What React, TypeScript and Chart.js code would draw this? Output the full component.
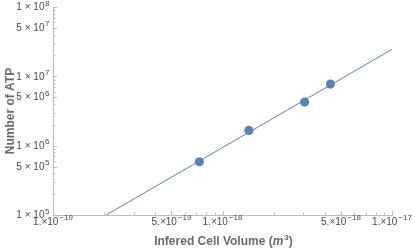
import React, { useEffect, useRef } from "react";
import { Chart, registerables } from "chart.js";

Chart.register(...registerables);

// Measured data points (inferred cell volume in m^3, number of ATP)
const volumes = [7.3e-19, 1.43e-18, 3.05e-18, 4.33e-18];
const atpCounts = [5.86e5, 1.66e6, 4.26e6, 7.74e6];

// Fitted power-law line, sampled at its two visible ends
const fitVolumes = [2.06e-19, 1e-17];
const fitAtp = [1e5, 2.45e7];

// Tick labels
const xTickValues = [1e-19, 5e-19, 1e-18, 5e-18, 1e-17];
const xTickMantissas = ["1.", "5.", "1.", "5.", "1."];
const xTickExponents = ["\u221219", "\u221219", "\u221218", "\u221218", "\u221217"];
const yTickValues = [1e5, 5e5, 1e6, 5e6, 1e7, 5e7, 1e8];
const yTickMantissas = ["1", "5", "1", "5", "1", "5", "1"];
const yTickExponents = ["5", "5", "6", "6", "7", "7", "8"];

const xTitleParts = ["Infered Cell Volume (", "m", "3", ")"];
const yTitle = "Number of ATP";

const BLUE = "#5E81B5";
const FONT = '"Liberation Sans", Arial, sans-serif';
const TICK_COLOR = "#4a4a4a";
const TITLE_COLOR = "#6a6a6a";
const AXIS_COLOR = "#bdbdbd";

function drawSci(
  ctx: CanvasRenderingContext2D,
  mant: string,
  exp: string,
  x: number,
  y: number,
  align: "center" | "right",
  size: number,
  gap: number
) {
  const baseFont = `${size}px ${FONT}`;
  const expFont = `${size * 0.8}px ${FONT}`;
  ctx.font = baseFont;
  const w1 = ctx.measureText(mant).width;
  ctx.font = expFont;
  const w2 = ctx.measureText(exp).width;
  const total = w1 + gap + w2;
  const x0 = align === "center" ? x - total / 2 : x - total;
  ctx.textAlign = "left";
  ctx.textBaseline = "middle";
  ctx.fillStyle = TICK_COLOR;
  ctx.font = baseFont;
  ctx.fillText(mant, x0, y);
  ctx.font = expFont;
  ctx.fillText(exp, x0 + w1 + gap, y - size * 0.42);
}

const decorPlugin = {
  id: "mmaDecor",
  afterDraw(chart: any) {
    const ctx: CanvasRenderingContext2D = chart.ctx;
    const xs = chart.scales.x;
    const ys = chart.scales.y;
    const area = chart.chartArea;
    ctx.save();
    // inward tick marks
    ctx.strokeStyle = AXIS_COLOR;
    ctx.lineWidth = 1;
    const majorX = new Set(xTickValues.map((v) => v.toExponential(3)));
    const majorY = new Set(yTickValues.map((v) => v.toExponential(3)));
    for (let e = -19; e < -17; e++) {
      for (let m = 1; m <= 9; m++) {
        const v = m * Math.pow(10, e);
        const px = Math.round(xs.getPixelForValue(v)) + 0.5;
        const len = majorX.has(v.toExponential(3)) ? 4 : 2.5;
        ctx.beginPath();
        ctx.moveTo(px, area.bottom);
        ctx.lineTo(px, area.bottom - len);
        ctx.stroke();
      }
    }
    for (let e = 5; e < 8; e++) {
      for (let m = 1; m <= 9; m++) {
        const v = m * Math.pow(10, e);
        const py = Math.round(ys.getPixelForValue(v)) + 0.5;
        const len = majorY.has(v.toExponential(3)) ? 4 : 2.5;
        ctx.beginPath();
        ctx.moveTo(area.left, py);
        ctx.lineTo(area.left + len, py);
        ctx.stroke();
      }
    }
    {
      const px = Math.round(xs.getPixelForValue(1e-17)) + 0.5;
      ctx.beginPath();
      ctx.moveTo(px, area.bottom);
      ctx.lineTo(px, area.bottom - 4);
      ctx.stroke();
      const py = Math.round(ys.getPixelForValue(1e8)) + 0.5;
      ctx.beginPath();
      ctx.moveTo(area.left, py);
      ctx.lineTo(area.left + 4, py);
      ctx.stroke();
    }
    // tick labels
    xTickValues.forEach((v, i) => {
      drawSci(ctx, xTickMantissas[i] + "\u00d7" + "10", xTickExponents[i], xs.getPixelForValue(v), area.bottom + 7, "center", 10, 1);
    });
    yTickValues.forEach((v, i) => {
      drawSci(ctx, yTickMantissas[i] + " \u00d7 " + "10", yTickExponents[i], area.left - 3.5, ys.getPixelForValue(v) + 0.5, "right", 10, 0.6);
    });
    // x title with italic m and superscript 3
    const bold = `bold 12px ${FONT}`;
    const boldItalic = `italic bold 12px ${FONT}`;
    const supFont = `bold 8px ${FONT}`;
    ctx.font = bold;
    const w0 = ctx.measureText(xTitleParts[0]).width;
    const w3 = ctx.measureText(xTitleParts[3]).width;
    ctx.font = boldItalic;
    const w1 = ctx.measureText(xTitleParts[1]).width;
    ctx.font = supFont;
    const w2 = ctx.measureText(xTitleParts[2]).width;
    const total = w0 + w1 + w2 + 1 + w3;
    let x = (area.left + area.right) / 2 - total / 2 + 1;
    const y = 242;
    ctx.fillStyle = TITLE_COLOR;
    ctx.textAlign = "left";
    ctx.textBaseline = "middle";
    ctx.font = bold;
    ctx.fillText(xTitleParts[0], x, y);
    x += w0;
    ctx.font = boldItalic;
    ctx.fillText(xTitleParts[1], x, y);
    x += w1 + 1;
    ctx.font = supFont;
    ctx.fillText(xTitleParts[2], x, y - 4.5);
    x += w2;
    ctx.font = bold;
    ctx.fillText(xTitleParts[3], x, y);
    ctx.restore();
  },
};

export default function App() {
  const ref = useRef<HTMLCanvasElement | null>(null);
  useEffect(() => {
    if (!ref.current) return;
    const chart = new Chart(ref.current, {
      type: "scatter",
      data: {
        datasets: [
          {
            label: "fit",
            data: fitVolumes.map((v, i) => ({ x: v, y: fitAtp[i] })),
            showLine: true,
            borderColor: BLUE,
            borderWidth: 1,
            pointRadius: 0,
            pointHoverRadius: 0,
            order: 2,
          },
          {
            label: "data",
            data: volumes.map((v, i) => ({ x: v, y: atpCounts[i] })),
            showLine: false,
            backgroundColor: BLUE,
            borderColor: BLUE,
            borderWidth: 0,
            pointRadius: 4.6,
            order: 1,
          },
        ],
      },
      options: {
        animation: false,
        responsive: false,
        events: [],
        layout: { padding: { top: 7, right: 23, left: 0, bottom: 0 } },
        plugins: { legend: { display: false }, tooltip: { enabled: false } },
        scales: {
          x: {
            type: "logarithmic",
            min: 1e-19,
            max: 1e-17,
            grid: { display: false },
            border: { display: true, color: AXIS_COLOR, width: 1 },
            ticks: { display: false },
            afterFit: (s: any) => {
              s.height = 36;
            },
          },
          y: {
            type: "logarithmic",
            min: 1e5,
            max: 1e8,
            grid: { display: false },
            border: { display: true, color: AXIS_COLOR, width: 1 },
            ticks: { display: false },
            title: {
              display: true,
              text: yTitle,
              color: TITLE_COLOR,
              font: { family: FONT, size: 12, weight: "bold" },
              padding: { top: 3, bottom: 0 },
            },
            afterFit: (s: any) => {
              s.width = 53;
            },
          },
        },
      },
      plugins: [decorPlugin],
    } as any);
    return () => chart.destroy();
  }, []);
  return (
    <div style={{ position: "fixed", left: 0, top: 0, width: 415, height: 251, background: "#fff" }}>
      <canvas ref={ref} width={415} height={251} />
    </div>
  );
}
